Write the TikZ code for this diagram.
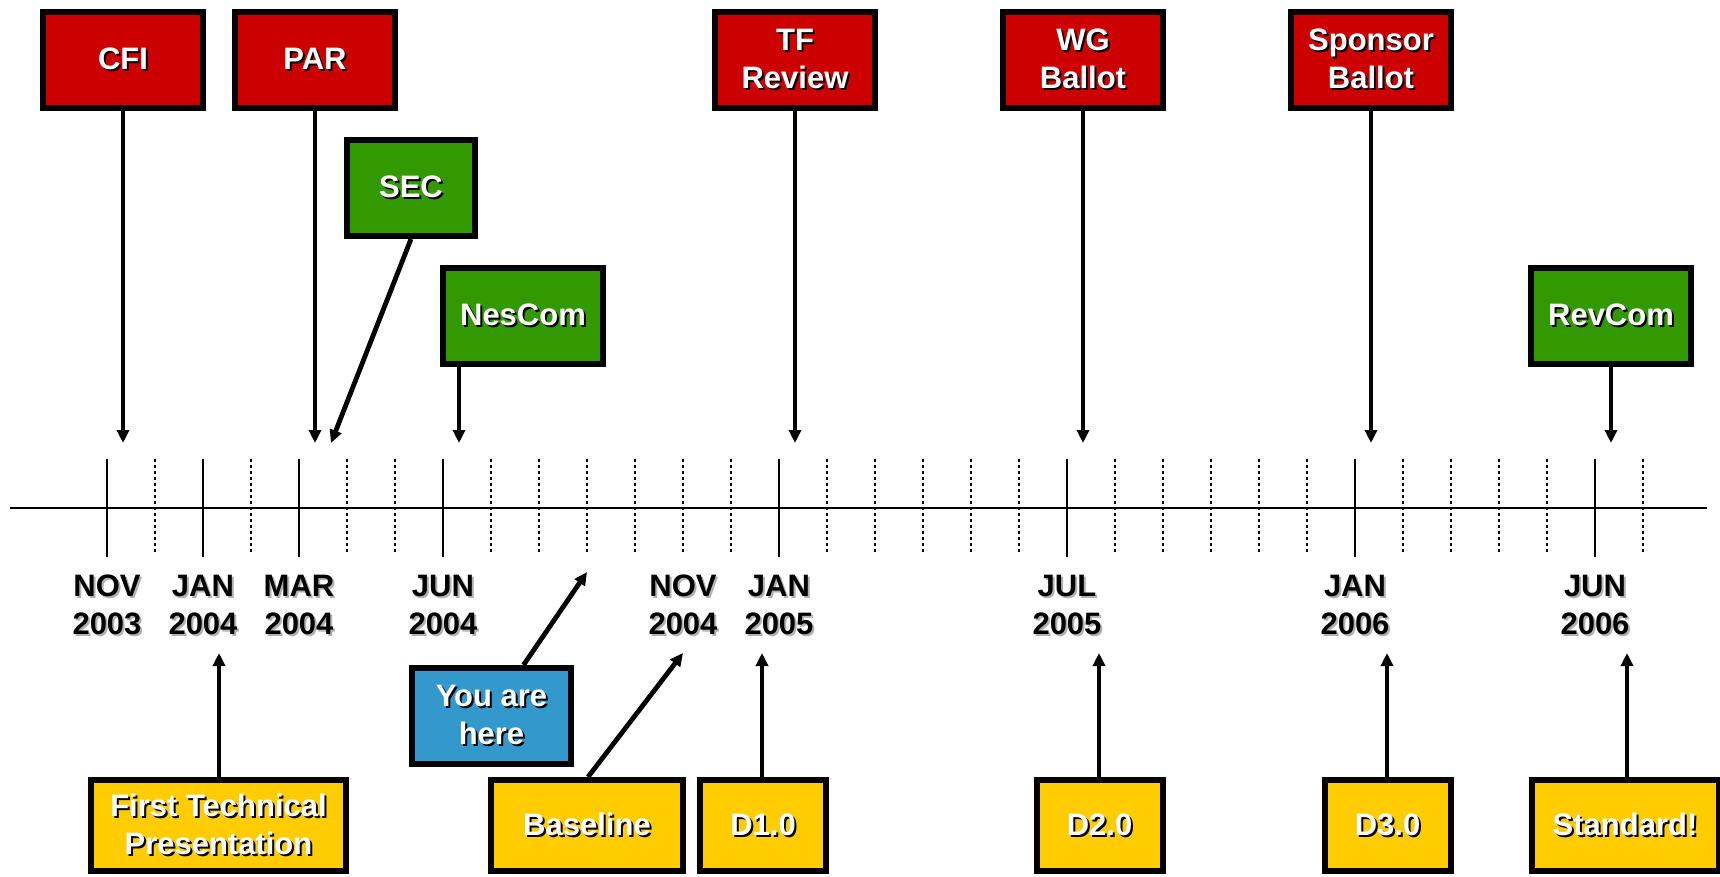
\documentclass[tikz,border=0pt]{standalone}
\usepackage{fontspec}
\setmainfont{Liberation Sans}
\usetikzlibrary{arrows.meta,positioning}

\definecolor{boxred}{HTML}{CC0000}
\definecolor{boxgreen}{HTML}{339900}
\definecolor{boxblue}{HTML}{3399CC}
\definecolor{boxyellow}{HTML}{FFCC00}

% text with a small drop shadow
\newcommand{\wt}[1]{\leavevmode\rlap{\kern1pt\raisebox{-1pt}{\color{black}#1}}{\color{white}#1}}
\newcommand{\bk}[1]{\leavevmode\rlap{\kern1pt\raisebox{-1pt}{\color{black!30}#1}}{\color{black}#1}}

\begin{document}
\begin{tikzpicture}[
  x=0.5pt, y=-0.5pt,
  milestone/.style={draw=black, line width=3pt, align=center, inner sep=0pt,
    minimum height=48pt, font=\bfseries\fontsize{15.5pt}{19pt}\selectfont},
  redbox/.style={milestone, fill=boxred, minimum width=80pt},
  greenbox/.style={milestone, fill=boxgreen, minimum width=80pt},
  bluebox/.style={milestone, fill=boxblue, minimum width=79.5pt},
  draftbox/.style={milestone, fill=boxyellow, minimum height=45.5pt},
  pointer/.style={line width=2.4pt, -{Triangle[length=6.5pt,width=6pt]}},
  datelbl/.style={align=center, font=\bfseries\fontsize{15.5pt}{19pt}\selectfont},
  major/.style={line width=0.7pt},
  minor/.style={line width=0.6pt, dash pattern=on 1.5pt off 1.5pt}
]
\useasboundingbox (0,0) rectangle (1720,877);

% time axis with one tick per month
\draw[line width=1pt] (10,508) -- (1707,508);
\foreach \i in {0,...,32}
  \draw[minor] (107+48*\i,459) -- (107+48*\i,553);
\foreach \i in {0,2,4,7,14,20,26,31}
  \draw[major] (107+48*\i,459) -- (107+48*\i,557);

% month labels
\foreach \i/\mo/\yr in {0/NOV/2003, 2/JAN/2004, 4/MAR/2004, 7/JUN/2004,
    12/NOV/2004, 14/JAN/2005, 20/JUL/2005, 26/JAN/2006, 31/JUN/2006}
  \node[datelbl] (d\i) at (107+48*\i,606) {\bk{\mo}\\\bk{\yr}};

% milestones above the axis
\node[redbox] (cfi) at (123,60) {\wt{CFI}};
\node[redbox] (par) at (315,60) {\wt{PAR}};
\node[greenbox, minimum width=64pt] (sec) at (411,188) {\wt{SEC}};
\node[greenbox] (nescom) at (523,316) {\wt{NesCom}};
\node[redbox] (tf) at (795,60) {\wt{TF}\\\wt{Review}};
\node[redbox] (wg) at (1083,60) {\wt{WG}\\\wt{Ballot}};
\node[redbox] (spons) at (1371,60) {\wt{Sponsor}\\\wt{Ballot}};
\node[greenbox] (revcom) at (1611,316) {\wt{RevCom}};

% drafts below the axis
\node[draftbox, minimum width=127.5pt] (first) at (218.5,825.5) {\wt{First Technical}\\\wt{Presentation}};
\node[bluebox] (here) at (491.5,716) {\wt{You are}\\\wt{here}};
\node[draftbox, minimum width=96pt] (base) at (587,825.5) {\wt{Baseline}};
\node[draftbox, minimum width=63pt] (D1) at (763,825.5) {\wt{D1.0}};
\node[draftbox, minimum width=63pt] (D2) at (1099.5,825.5) {\wt{D2.0}};
\node[draftbox, minimum width=63pt] (D3) at (1387.5,825.5) {\wt{D3.0}};
\node[draftbox, minimum width=93.5pt] (std) at (1625,825.5) {\wt{Standard!}};

% arrow tips
\coordinate (tcfi) at (123,443);
\coordinate (tpar) at (315,443);
\coordinate (tsec) at (331,443);
\coordinate (tnes) at (459,443);
\coordinate (ttf) at (795,443);
\coordinate (twg) at (1083,443);
\coordinate (tspons) at (1371,443);
\coordinate (trev) at (1611,443);
\coordinate (tfirst) at (219,653);
\coordinate (there) at (587,572);
\coordinate (tbase) at (683,653);
\coordinate (tD1) at (762,653);
\coordinate (tD2) at (1099,653);
\coordinate (tD3) at (1387,653);
\coordinate (tstd) at (1627,653);

\draw[pointer] (cfi) -- (tcfi);
\draw[pointer] (par) -- (tpar);
\draw[pointer] (sec.south) -- (tsec);
\draw[pointer] (tnes |- nescom.south) -- (tnes);
\draw[pointer] (tf) -- (ttf);
\draw[pointer] (wg) -- (twg);
\draw[pointer] (spons) -- (tspons);
\draw[pointer] (revcom) -- (trev);
\draw[pointer] (tfirst |- first.north) -- (tfirst);
\draw[pointer] ([xshift=16pt]here.north) -- (there);
\draw[pointer] ([xshift=0.5pt]base.north) -- (tbase);
\draw[pointer] (tD1 |- D1.north) -- (tD1);
\draw[pointer] (tD2 |- D2.north) -- (tD2);
\draw[pointer] (tD3 |- D3.north) -- (tD3);
\draw[pointer] (tstd |- std.north) -- (tstd);

\end{tikzpicture}
\end{document}
